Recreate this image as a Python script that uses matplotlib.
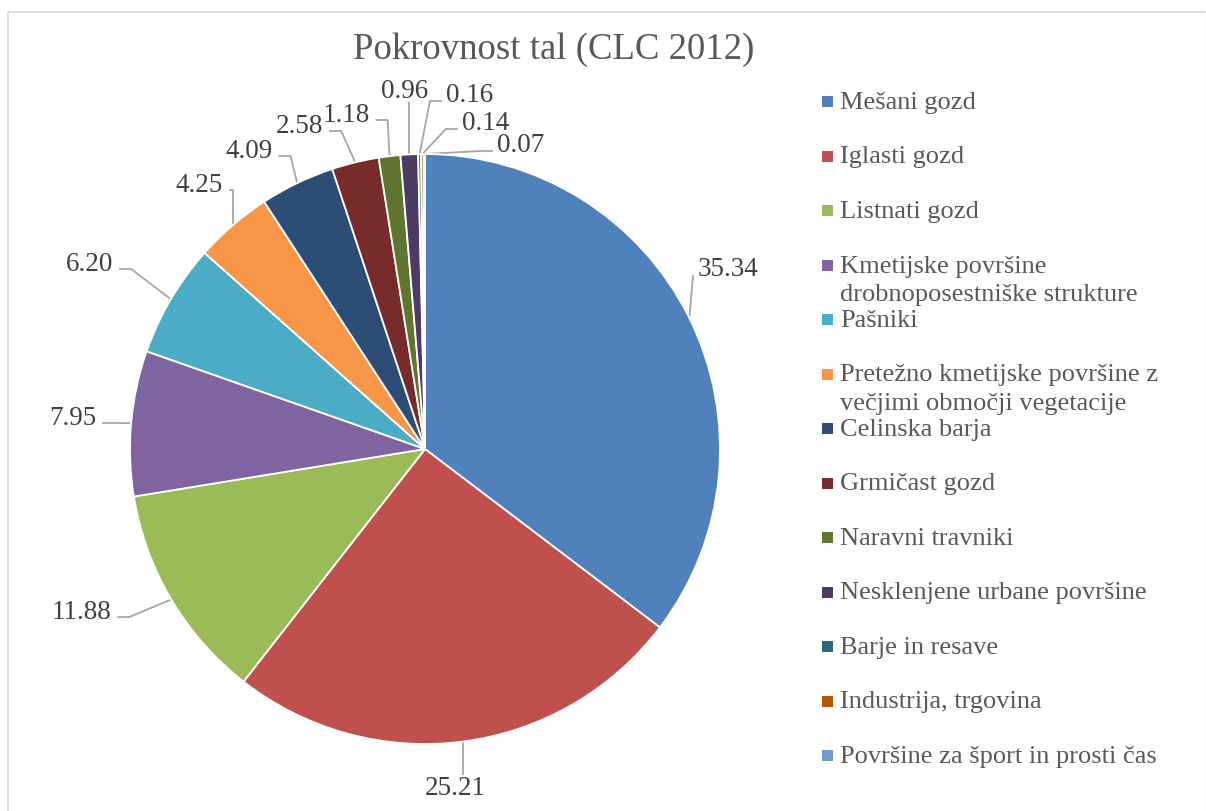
import matplotlib
matplotlib.use("Agg")
import matplotlib.pyplot as plt
from matplotlib.patches import Rectangle
from matplotlib.lines import Line2D
import numpy as np

# ---------------- data ----------------
categories = [
    "Mešani gozd",
    "Iglasti gozd",
    "Listnati gozd",
    "Kmetijske površine\ndrobnoposestniške strukture",
    "Pašniki",
    "Pretežno kmetijske površine z\nvečjimi območji vegetacije",
    "Celinska barja",
    "Grmičast gozd",
    "Naravni travniki",
    "Nesklenjene urbane površine",
    "Barje in resave",
    "Industrija, trgovina",
    "Površine za šport in prosti čas",
]
values = [35.34, 25.21, 11.88, 7.95, 6.20, 4.25, 4.09, 2.58, 1.18, 0.96, 0.16, 0.14, 0.07]
colors = ["#4F81BD", "#C0504D", "#9BBB59", "#8064A2", "#4BACC6", "#F79646",
          "#2C4D75", "#772C2A", "#5F7530", "#4D3B62", "#276A7C", "#B65708", "#729ACA"]
title = "Pokrovnost tal (CLC 2012)"

# ---------------- layout (image pixel coordinates, y from top) ----------------
W, H = 1206, 812
CX, CY, R = 425, 450, 295
# label text (center x, baseline y)
label_pos = [(727.5, 276), (455, 795), (81.5, 619), (72.5, 425), (89.5, 271),
             (199, 192), (249, 158), (299.5, 133), (346, 122), (405, 98),
             (469.5, 102), (485.5, 130), (520.5, 152)]

FONT = ["Liberation Serif", "DejaVu Serif"]
LABEL_FS = 19.5
LEG_FS = 19
GREY_TXT = "#404040"
LEG_TXT = "#595959"
LINE_C = "#A6A6A6"

fig = plt.figure(figsize=(W / 100, H / 100), dpi=100)
ax = fig.add_axes([0, 0, 1, 1])
ax.axis("off")

def Y(y):
    return H - y

# chart-area border (top, left, faint right; bottom lies outside the picture)
fig.lines.append(Line2D([8 / W, 8 / W, 1205 / W], [-0.1, 1 - 12.5 / H, 1 - 12.5 / H],
                        transform=fig.transFigure, color="#D9D9D9", linewidth=1.2))
fig.lines.append(Line2D([1205.5 / W, 1205.5 / W], [-0.1, 1 - 12.5 / H],
                        transform=fig.transFigure, color="#EDEDED", linewidth=1.0))

wedges, _ = ax.pie(values, colors=colors, startangle=90, counterclock=False,
                   center=(CX, Y(CY)), radius=R, frame=False,
                   wedgeprops=dict(edgecolor="white", linewidth=1.3))
ax.set_xlim(0, W)
ax.set_ylim(0, H)
ax.set_aspect("equal")
ax.set_position([0, 0, 1, 1])
ax.axis("off")

# title
ax.text(553.5, Y(59), title, ha="center", va="baseline", fontsize=26.5,
        family=FONT, color=LEG_TXT)

fig.canvas.draw()
renderer = fig.canvas.get_renderer()

# data labels with leader lines
total = sum(values)
cum = 0.0
for v, (lx, lb) in zip(values, label_pos):
    mid = (cum + v / 2) / total
    cum += v
    ang = np.deg2rad(90 - 360 * mid)
    ax_x = CX + R * np.cos(ang)
    ax_y = CY - R * np.sin(ang)  # image coords
    t = ax.text(lx, Y(lb), f"{v:.2f}", ha="center", va="baseline",
                fontsize=LABEL_FS, family=FONT, color=GREY_TXT)
    bb = t.get_window_extent(renderer)
    left, right = bb.x0, bb.x1
    top_img = H - bb.y1
    if right + 4 < ax_x:
        x0 = right + 6
        x1 = min(x0 + 12, ax_x)
        pts = [(x0, lb - 1), (x1, lb - 1), (ax_x, ax_y)]
    elif left - 4 > ax_x:
        x0 = left - 4
        if x0 - ax_x < 14:
            pts = [(x0, lb), (ax_x, ax_y)]
        else:
            x1 = x0 - 12
            pts = [(x0, lb), (x1, lb), (ax_x, ax_y)]
    else:
        if lb < ax_y:
            pts = [(ax_x, lb + 5), (ax_x, ax_y)]
        else:
            pts = [(ax_x, ax_y), (ax_x, top_img + 0)]
    xs = [p[0] for p in pts]
    ys = [Y(p[1]) for p in pts]
    ax.plot(xs, ys, color=LINE_C, linewidth=1.3, solid_capstyle="butt", zorder=0.5)

# legend (manual)
LEG_X_BOX, LEG_X_TXT = 822, 840
BASE0, STEP, LINE_H = 109, 54.5, 29
for i, (cat, col) in enumerate(zip(categories, colors)):
    b = BASE0 + i * STEP
    ax.add_patch(Rectangle((LEG_X_BOX, Y(b - 1)), 11, 11, facecolor=col,
                           edgecolor="none"))
    for j, line in enumerate(cat.split("\n")):
        ax.text(LEG_X_TXT, Y(b + j * LINE_H), line, ha="left", va="baseline",
                fontsize=LEG_FS, family=FONT, color=LEG_TXT)

fig.savefig("out.png", dpi=100, facecolor="white")
